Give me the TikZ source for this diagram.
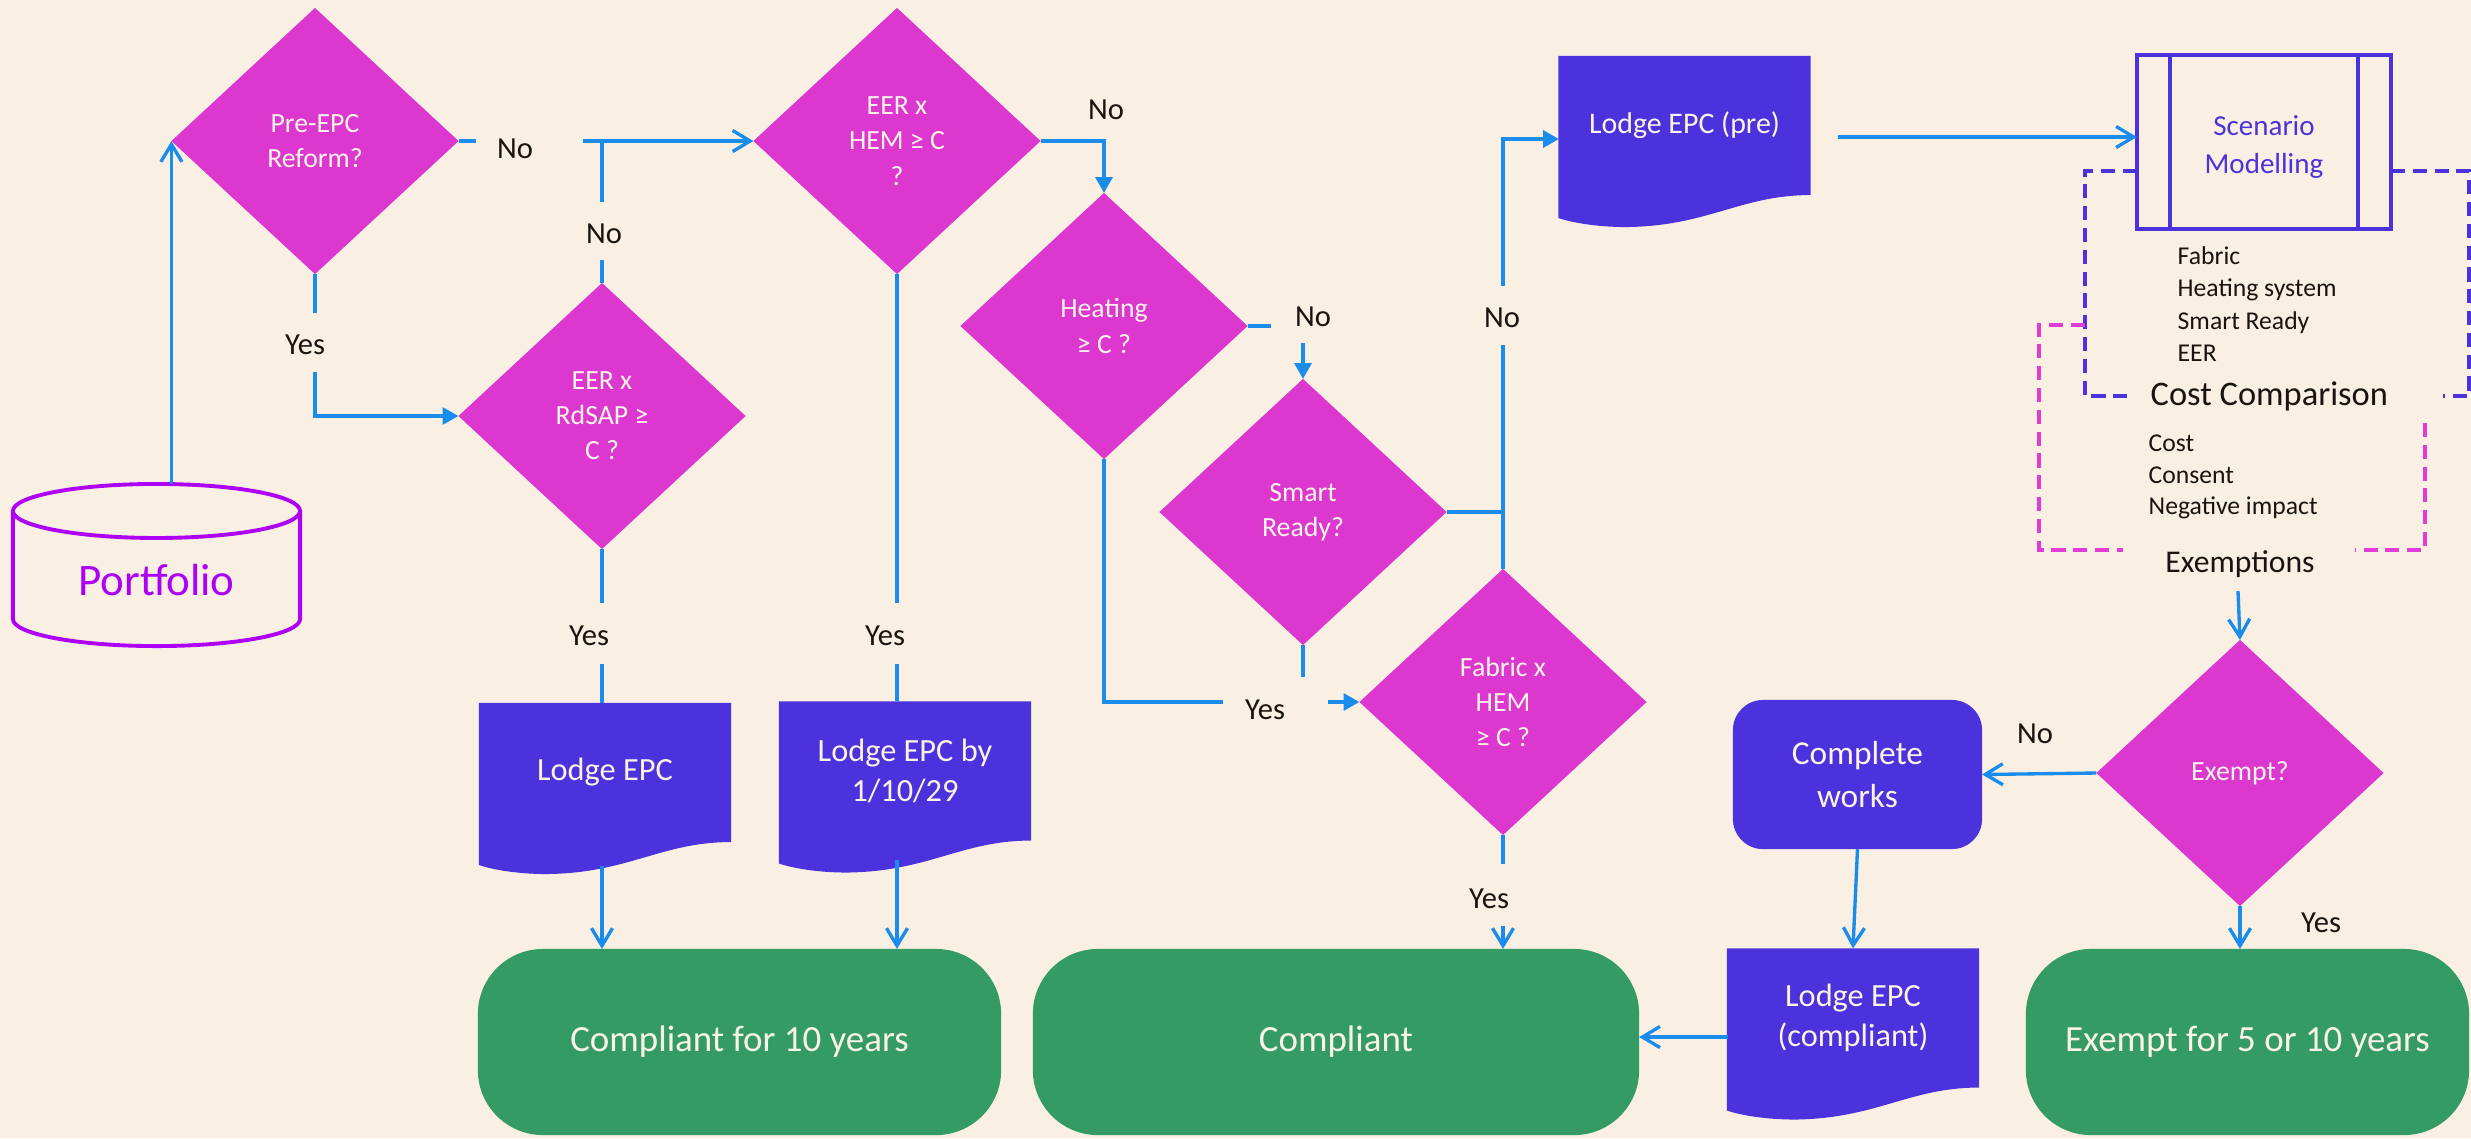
\documentclass[tikz,border=0pt]{standalone}
\usepackage{fontspec}
\setmainfont{Carlito}
\usetikzlibrary{shapes.geometric,arrows.meta,calc}
\pgfdeclarelayer{back}
\pgfdeclarelayer{mid}
\pgfsetlayers{back,mid,main}
\definecolor{bg}{RGB}{249,240,227}
\definecolor{mag}{RGB}{220,56,208}
\definecolor{viol}{RGB}{76,50,220}
\definecolor{grn}{RGB}{53,155,101}
\definecolor{arr}{RGB}{26,140,235}
\definecolor{purp}{RGB}{174,0,245}
\definecolor{lbl}{RGB}{25,20,15}
\definecolor{cream}{RGB}{250,243,232}
\definecolor{dmag}{RGB}{226,60,216}
\newcommand\fs[2]{\fontsize{#1}{#2}\selectfont}
\newcommand\docshape[1]{%
  \begin{pgfonlayer}{mid}
  \fill[viol] (#1.north west) -- (#1.north east) -- (#1.south east)
    .. controls ($(#1.south east)+(-70,0)$) and ($(#1.south west)+(150,31)$) .. ($(#1.south west)+(68,32)$)
    .. controls ($(#1.south west)+(40,32)$) and ($(#1.south west)+(15,28)$) .. ($(#1.south west)+(0,23)$) -- cycle;
  \end{pgfonlayer}}
\begin{document}
\begin{tikzpicture}[x=0.01cm,y=-0.01cm,
  dec/.style={diamond, fill=mag, minimum width=2.87cm, minimum height=2.66cm, inner sep=0pt, outer sep=0pt, text=cream, align=center, font=\fs{7.9}{10}},
  lab/.style={text=lbl, font=\fs{8.7}{10}, inner sep=0pt},
  conn/.style={draw=arr, line width=0.95pt},
  oa/.style={conn, -{Straight Barb[length=5pt,width=6pt]}},
  fa/.style={conn, -{Triangle[length=4.5pt,width=4.8pt]}},
  term/.style={fill=grn, rounded corners=0.65cm, text=cream, font=\fs{10.5}{12}, inner sep=0pt, outer sep=0pt, minimum height=1.86cm},
  docnode/.style={inner sep=0pt, outer sep=0pt, minimum width=2.52cm, minimum height=1.39cm, text=cream, align=center},
  bdash/.style={draw=viol, line width=1pt, dash pattern=on 4pt off 2.2pt},
  mdash/.style={draw=dmag, line width=1pt, dash pattern=on 4pt off 2.2pt},
  txt/.style={text=lbl, inner sep=0pt, align=left},
]
\begin{pgfonlayer}{back}
\fill[bg] (0,0) rectangle (2471,1138);
\end{pgfonlayer}
\useasboundingbox (0,0) rectangle (2471,1138);

% decisions
\node[dec] (D1) at (315,141) {Pre-EPC\\Reform?};
\node[dec] (D2) at (897,141) {EER x\\HEM ≥ C\\?};
\node[dec] (D3) at (602,416) {EER x\\RdSAP ≥\\C ?};
\node[dec] (D4) at (1104,326) {Heating\\≥ C ?};
\node[dec] (D5) at (1303,512) {Smart\\Ready?};
\node[dec] (D6) at (1503,702) {Fabric x\\HEM\\≥ C ?};
\node[dec] (D7) at (2240,773) {Exempt?};

% portfolio cylinder
\node[inner sep=0pt, outer sep=0pt, minimum width=2.87cm, minimum height=1.62cm,
  label={[text=purp, font=\fs{12.8}{14}, yshift=-0.15cm]center:Portfolio}] (PF) at (156.5,565) {};
\begin{pgfonlayer}{mid}
\draw[purp, line width=1.1pt, fill=bg]
  ($(PF.north west)+(0,27)$) -- ($(PF.south west)+(0,-27)$)
  arc[start angle=180, end angle=360, x radius=1.435cm, y radius=0.27cm]
  -- ($(PF.north east)+(0,27)$);
\draw[purp, line width=1.1pt] ($(PF.north)+(0,27)$) ellipse[x radius=1.435cm, y radius=0.27cm];
\end{pgfonlayer}

% documents
\node[docnode, font=\fs{9.2}{11.5}] (L1) at (605,772.5) {Lodge EPC};
\node[docnode, font=\fs{9.2}{11.5}] (L2) at (905,771) {Lodge EPC by\\1/10/29};
\node[docnode, font=\fs{8.5}{11}] (LP) at (1684.5,125.5) {Lodge EPC (pre)};
\node[docnode, font=\fs{9.2}{11.4}] (LC) at (1853,1018) {Lodge EPC\\(compliant)};
\docshape{L1}\docshape{L2}\docshape{LP}\docshape{LC}

% terminators
\node[term, minimum width=5.23cm] (C10) at (739.5,1042) {Compliant for 10 years};
\node[term, minimum width=6.06cm] (CO) at (1336,1042) {Compliant};
\node[term, minimum width=4.43cm] (EX) at (2247.5,1042) {Exempt for 5 or 10 years};

% complete works
\node[fill=viol, rounded corners=0.3cm, minimum width=2.49cm, minimum height=1.49cm, inner sep=0pt, outer sep=0pt,
  text=cream, align=center, font=\fs{9.5}{12}] (CW) at (1857.5,774.5) {Complete\\works};

% scenario modelling
\node[draw=viol, line width=1pt, minimum width=2.54cm, minimum height=1.74cm, inner sep=0pt, outer sep=0pt,
  label={[text=viol, align=center, font=\fs{8.25}{10.8}, yshift=-0.05cm]center:Scenario\\Modelling}] (SM) at (2264,142) {};
\draw[viol, line width=1pt] ($(SM.north west)+(33,0)$) -- ($(SM.south west)+(33,0)$);
\draw[viol, line width=1pt] ($(SM.north east)+(-33,0)$) -- ($(SM.south east)+(-33,0)$);

% side texts
\node[txt, anchor=west, font=\fs{7.3}{9.2}] (SL) at (2177,304) {Fabric\\Heating system\\Smart Ready\\EER};
\node[txt, anchor=west, font=\fs{9.8}{11}] (CC) at (2150,396) {Cost Comparison};
\node[txt, anchor=west, font=\fs{7.3}{8.9}] (CL) at (2148,477) {Cost\\Consent\\Negative impact};
\node[txt, font=\fs{9}{10}] (EXM) at (2240,564) {Exemptions};

% dashed brackets
\draw[bdash] (2137,171) -- (2085,171) -- (2085,396) -- (2129,396);
\draw[bdash] (2391,171) -- (2469,171) -- (2469,396) -- (2443,396);
\draw[mdash] (2085,325) -- (2039,325) -- (2039,550) -- (2123,550);
\draw[mdash] (2425,423) -- (2425,550) -- (2355,550);

% labels
\node[lab] (n1) at (515,149) {No};
\node[lab] (n2) at (604,234) {No};
\node[lab] (y1) at (305,345) {Yes};
\node[lab] (y3) at (589,636) {Yes};
\node[lab] (y2) at (885,636) {Yes};
\node[lab] (n3) at (1106,110) {No};
\node[lab] (n4) at (1313,317) {No};
\node[lab] (n5) at (1502,318) {No};
\node[lab] (y4) at (1265,710) {Yes};
\node[lab] (y6) at (1489,899) {Yes};
\node[lab] (n7) at (2035,734) {No};
\node[lab] (y7) at (2321,923) {Yes};

% coordinates for free ends
\coordinate (a0) at (476,141);
\coordinate (a1) at (583,141);
\coordinate (j1) at (602,141);
\coordinate (a2) at (602,202);
\coordinate (a3) at (602,260);
\coordinate (b1) at (315,313);
\coordinate (b2) at (315,372);
\coordinate (c1) at (602,603);
\coordinate (c2) at (602,664);
\coordinate (c3) at (602,866);
\coordinate (e1) at (897,603);
\coordinate (e2) at (897,664);
\coordinate (e3) at (897,860);
\coordinate (f1) at (1271,326);
\coordinate (f2) at (1303,343);
\coordinate (g1) at (1223,702);
\coordinate (g2) at (1328,702);
\coordinate (h1) at (1303,677);
\coordinate (k1) at (1503,345);
\coordinate (k2) at (1503,286);
\coordinate (k3) at (1559,139);
\coordinate (m1) at (1503,864);
\coordinate (m2) at (1503,926);
\coordinate (lpout) at (1838,137);
\coordinate (exa) at (2238,591);
\coordinate (lcout) at (1728,1037);

% connectors
\draw[oa] (D1.west |- PF.north) -- (D1.west);
\draw[conn] (D1.east) -- (a0);
\draw[oa] (a1) -- (D2.west);
\draw[conn] (a2) -- (j1);
\draw[conn] (D3.north) -- (a3);
\draw[conn] (D1.south) -- (b1);
\draw[fa] (b2) |- (D3.west);
\draw[conn] (D3.south) -- (c1);
\draw[conn] (c2) -- (c2 |- L1.north);
\draw[oa] (c3) -- (c3 |- C10.north);
\draw[fa] (D2.east) -| (D4.north);
\draw[conn] (D2.south) -- (e1);
\draw[conn] (e2) -- (e2 |- L2.north);
\draw[oa] (e3) -- (e3 |- C10.north);
\draw[conn] (D4.east) -- (f1);
\draw[fa] (f2) -- (D5.north);
\draw[conn] (D4.south) |- (g1);
\draw[fa] (g2) -- (D6.west);
\draw[conn] (D5.east) -- (D5.east -| D6.north);
\draw[conn] (D5.south) -- (h1);
\draw[conn] (D6.north) -- (k1);
\draw[fa] (k2) |- (k3);
\draw[conn] (D6.south) -- (m1);
\draw[oa] (m2) -- (m2 |- CO.north);
\draw[oa] (lpout) -- (lpout -| SM.west);
\draw[oa] (exa) -- (D7.north);
\draw[oa] (D7.west) -- (CW.east);
\draw[oa] (D7.south) -- (D7.south |- EX.north);
\draw[oa] (CW.south) -- (LC.north);
\draw[oa] (lcout) -- (lcout -| CO.east);
\end{tikzpicture}
\end{document}
